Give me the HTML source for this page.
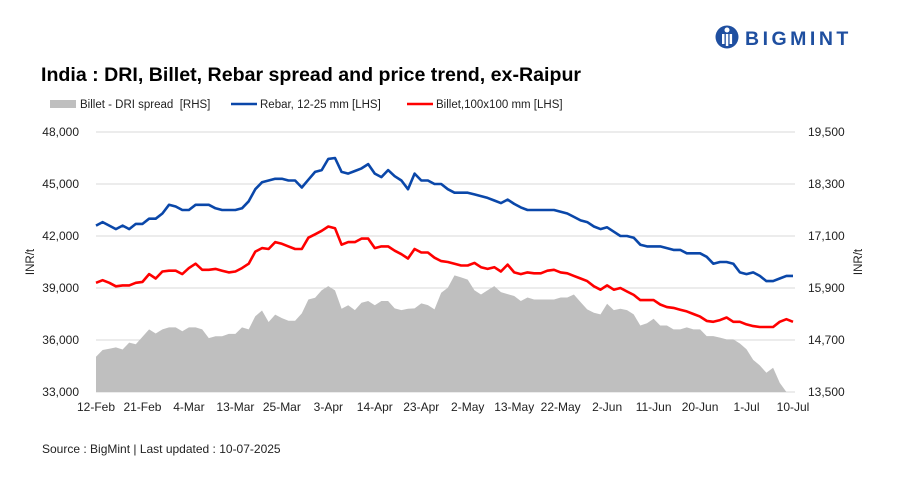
<!DOCTYPE html>
<html><head><meta charset="utf-8"><style>
body{margin:0;background:#fff;}
svg text{font-family:"Liberation Sans",Arial,sans-serif;}
</style></head><body>
<svg width="907" height="473" viewBox="0 0 907 473" xmlns="http://www.w3.org/2000/svg">
<g>
<circle cx="727" cy="37" r="11.5" fill="#1f4fa0"/>
<circle cx="727" cy="30" r="2.5" fill="#fff"/>
<rect x="722" y="34" width="2.5" height="10" fill="#fff"/><rect x="725.8" y="34" width="2.5" height="12" fill="#fff"/><rect x="729.6" y="34" width="2.5" height="10" fill="#fff"/>
<text x="745" y="45" font-size="19.5" font-weight="bold" fill="#1f4fa0" letter-spacing="3.5">BIGMINT</text>
</g>
<text x="41" y="81" font-size="19.6" font-weight="bold" fill="#000">India : DRI, Billet, Rebar spread and price trend, ex-Raipur</text>
<g font-size="11.5" fill="#222">
<g><rect x="50" y="100" width="26" height="8" fill="#bfbfbf"/><text x="80" y="108" xml:space="preserve">Billet - DRI spread  [RHS]</text></g>
<g><line x1="231" y1="104" x2="257" y2="104" stroke="#0a47a9" stroke-width="2.5"/><text x="260" y="108">Rebar, 12-25 mm [LHS]</text></g>
<g><line x1="407" y1="104" x2="433" y2="104" stroke="#ff0000" stroke-width="2.5"/><text x="436" y="108">Billet,100x100 mm [LHS]</text></g>
</g>
<g id="grid"></g>
<g id="area"></g>
<g id="lines"></g>
<g id="axes" font-size="12" fill="#222"></g>
<text transform="translate(34,262) rotate(-90)" text-anchor="middle" font-size="11.5" fill="#222">INR/t</text>
<text transform="translate(862,262) rotate(-90)" text-anchor="middle" font-size="11.5" fill="#222">INR/t</text>
<text x="42" y="453" font-size="12" fill="#222">Source : BigMint | Last updated : 10-07-2025</text>
</svg>
<script>
const xLabels=["12-Feb","21-Feb","4-Mar","13-Mar","25-Mar","3-Apr","14-Apr","23-Apr","2-May","13-May","22-May","2-Jun","11-Jun","20-Jun","1-Jul","10-Jul"];
const leftTicks=[33000,36000,39000,42000,45000,48000];
const rightTicks=[13500,14700,15900,17100,18300,19500];
const rebar=[42600,42800,42600,42400,42600,42400,42700,42700,43000,43000,43300,43800,43700,43500,43500,43800,43800,43800,43600,43500,43500,43500,43600,44000,44700,45100,45200,45300,45300,45200,45200,44800,45250,45700,45800,46450,46500,45700,45600,45750,45900,46150,45600,45400,45800,45450,45200,44700,45600,45200,45200,45000,45000,44700,
44500,44500,44500,44400,44300,44200,44050,43900,44100,43850,43650,43500,43500,43500,43500,43500,43400,43300,43100,42900,42800,42550,42400,42500,42250,42000,42000,41900,41500,41400,41400,41400,41300,41200,41200,41000,41000,41000,40800,40400,40500,40500,40400,39900,39800,39900,39700,39400,39400,39550,39700,39700];
const billet=[39300,39450,39300,39100,39150,39150,39300,39350,39800,39550,39950,40000,40000,39800,40150,40400,40050,40050,40100,40000,39900,39950,40150,40400,41100,41300,41250,41650,41550,41400,41250,41250,41900,42100,42300,42550,42450,41500,41650,41650,41850,41850,41300,41400,41400,41150,40950,40700,41250,41050,41050,40750,40550,40500,
40400,40300,40300,40450,40200,40100,40200,39950,40350,39900,39800,39900,39850,39850,40000,40050,39900,39850,39700,39550,39400,39100,38900,39150,38900,39000,38800,38600,38300,38300,38300,38050,37900,37850,37750,37650,37500,37350,37100,37050,37150,37300,37050,37050,36900,36800,36750,36750,36750,37050,37200,37050];
const spread=[14315,14470,14500,14530,14480,14640,14600,14775,14945,14850,14945,14990,14990,14900,14990,14990,14945,14745,14785,14785,14840,14840,14990,14945,15250,15380,15115,15285,15205,15145,15145,15315,15635,15675,15850,15945,15845,15420,15500,15390,15560,15600,15500,15600,15600,15430,15390,15420,15430,15545,15505,15405,15790,15905,
16190,16145,16095,15850,15750,15850,15945,15805,15760,15715,15600,15680,15635,15635,15635,15635,15680,15680,15750,15575,15405,15330,15290,15535,15390,15420,15390,15290,15035,15085,15190,15035,15035,14945,14945,14990,14945,14945,14790,14790,14755,14715,14715,14620,14485,14240,14115,13945,14060,13715,13500,13500];
const NS="http://www.w3.org/2000/svg";
const X0=96,X1=793,YT=132,YB=392;
const n=rebar.length;
const xs=i=>X0+i*(X1-X0)/(n-1);
const yL=v=>YB-(v-33000)/(48000-33000)*(YB-YT);
const yR=v=>YB-(v-13500)/(19500-13500)*(YB-YT);
function mk(tag,attrs,parent){const e=document.createElementNS(NS,tag);for(const k in attrs)e.setAttribute(k,attrs[k]);parent.appendChild(e);return e;}
const grid=document.getElementById('grid'),axes=document.getElementById('axes');
leftTicks.forEach((t,i)=>{
 const g=mk('line',{x1:X0,x2:X1+2,y1:yL(t),y2:yL(t),stroke:'#d9d9d9','stroke-width':1},grid);
 
 
 const a=mk('text',{x:79,y:yL(t)+4,'text-anchor':'end'},axes);a.textContent=t.toLocaleString('en-US');
 
 
 const b=mk('text',{x:808,y:yR(rightTicks[i])+4},axes);b.textContent=rightTicks[i].toLocaleString('en-US');
 
 
});
xLabels.forEach((l,k)=>{
 const t=mk('text',{x:xs(k*7),y:411,'text-anchor':'middle'},axes);t.textContent=l;
 
 
});
let d='M'+xs(0)+','+YB;
spread.forEach((v,i)=>{d+=' L'+xs(i).toFixed(1)+','+yR(v).toFixed(1);});
d+=' L'+xs(n-1)+','+YB+' Z';
const ar=mk('path',{d:d,fill:'#bfbfbf'},document.getElementById('area'));


function line(arr,color,name){
 const p=arr.map((v,i)=>xs(i).toFixed(1)+','+yL(v).toFixed(1)).join(' ');
 const e=mk('polyline',{points:p,fill:'none',stroke:color,'stroke-width':2.6,'stroke-linejoin':'round'},document.getElementById('lines'));
 
 
}
line(rebar,'#0a47a9','rebar-line');
line(billet,'#ff0000','billet-line');
</script>
</body></html>
